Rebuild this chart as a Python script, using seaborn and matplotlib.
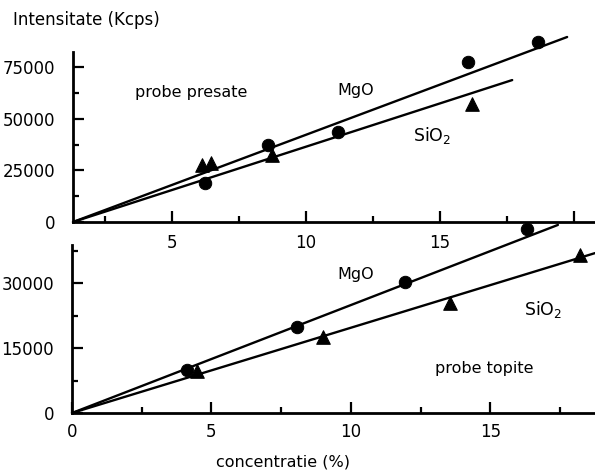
import numpy as np
import pandas as pd
import matplotlib
matplotlib.use("Agg")
import matplotlib.pyplot as plt
from matplotlib.ticker import FixedLocator, FixedFormatter
import seaborn as sns

# probe presate (upper panel)
top_mgo_x = [6.23, 8.58, 11.19, 16.04, 18.66]
top_mgo_y = [18900, 37400, 43700, 77700, 87400]
top_sio2_x = [6.12, 6.46, 8.73, 16.19]
top_sio2_y = [27700, 28600, 32500, 57300]
top_fit_mgo_x = [1.3, 19.74]
top_fit_mgo_y = [0, 89800]
top_fit_sio2_x = [1.3, 17.69]
top_fit_sio2_y = [0, 68900]

# probe topite (lower panel)
bot_mgo_x = [4.12, 8.06, 11.94, 16.3]
bot_mgo_y = [9900, 19800, 30200, 42500]
bot_sio2_x = [4.48, 9.0, 13.55, 18.2]
bot_sio2_y = [9700, 17500, 25400, 36500]
bot_fit_mgo_x = [0, 17.42]
bot_fit_mgo_y = [0, 43400]
bot_fit_sio2_x = [0, 18.75]
bot_fit_sio2_y = [0, 36900]

top_yticks = [0, 25000, 50000, 75000]
bot_yticks = [0, 15000, 30000]

sns.set_style("ticks")
plt.rcParams["font.family"] = ["DejaVu Sans"]
plt.rcParams["text.color"] = "black"

fig = plt.figure(figsize=(5.95, 4.70), dpi=100)
ax1 = fig.add_axes([73 / 595, 1 - 222 / 470, 1 - 73 / 595, 192 / 470])
ax2 = fig.add_axes([72 / 595, 1 - 413 / 470, 1 - 72 / 595, 191 / 470])

lw = 1.7


def style(ax, ytop):
    ax.patch.set_alpha(0)
    for s in ["top", "right"]:
        ax.spines[s].set_visible(False)
    for s in ["left", "bottom"]:
        ax.spines[s].set_linewidth(2.0)
        ax.spines[s].set_color("black")
    ax.spines["left"].set_bounds(0, ytop)
    ax.tick_params(which="both", direction="in", width=1.6, color="black",
                   labelsize=12, labelcolor="black")
    ax.tick_params(which="major", length=8)
    ax.tick_params(which="minor", length=4.5)
    ax.tick_params(axis="y", which="major", pad=13)


def draw(ax, fx1, fy1, fx2, fy2, mx, my, sx, sy):
    sns.lineplot(x=fx1, y=fy1, ax=ax, color="black", lw=lw, clip_on=False)
    sns.lineplot(x=fx2, y=fy2, ax=ax, color="black", lw=lw, clip_on=False)
    sns.scatterplot(x=mx, y=my, ax=ax, marker="o", s=80, color="black",
                    edgecolor="black", clip_on=False, zorder=3)
    sns.scatterplot(x=sx, y=sy, ax=ax, marker="^", s=95, color="black",
                    edgecolor="black", clip_on=False, zorder=3)


# upper panel
draw(ax1, top_fit_mgo_x, top_fit_mgo_y, top_fit_sio2_x, top_fit_sio2_y,
     top_mgo_x, top_mgo_y, top_sio2_x, top_sio2_y)
ax1.set_xlim(1.3, 20.78)
ax1.set_ylim(0, 93200)
style(ax1, 82500)
ax1.xaxis.set_major_locator(FixedLocator([5, 10, 15, 20]))
ax1.xaxis.set_major_formatter(FixedFormatter(["5", "10", "15", ""]))
ax1.xaxis.set_minor_locator(FixedLocator([2.5, 7.5, 12.5, 17.5]))
ax1.set_yticks(top_yticks)
ax1.set_yticklabels([str(v) for v in top_yticks])
ax1.yaxis.set_minor_locator(FixedLocator([12500, 37500, 62500]))
ax1.tick_params(axis="x", which="major", pad=9)
ax1.set_xlabel("")
ax1.set_ylabel("")

# lower panel
draw(ax2, bot_fit_mgo_x, bot_fit_mgo_y, bot_fit_sio2_x, bot_fit_sio2_y,
     bot_mgo_x, bot_mgo_y, bot_sio2_x, bot_sio2_y)
ax2.set_xlim(0, 18.75)
ax2.set_ylim(0, 44077)
style(ax2, 38800)
ax2.set_xticks([0, 5, 10, 15])
ax2.set_xticklabels(["0", "5", "10", "15"])
ax2.xaxis.set_minor_locator(FixedLocator([2.5, 7.5, 12.5, 17.5]))
ax2.set_yticks(bot_yticks)
ax2.set_yticklabels([str(v) for v in bot_yticks])
ax2.yaxis.set_minor_locator(FixedLocator([7500, 22500, 37500]))
ax2.tick_params(axis="x", which="major", pad=7)
ax2.set_xlabel("")
ax2.set_ylabel("")


# annotations (pixel positions, y measured from the top)
def put(xp, yp, s, size=11.5):
    fig.text(xp / 595, 1 - yp / 470, s, fontsize=size, ha="center",
             va="center", color="black")


put(191, 93, "probe presate")
put(356, 90, "MgO")
put(432, 135, r"$\mathregular{SiO_2}$", 12.5)
put(356, 275, "MgO")
put(543, 310, r"$\mathregular{SiO_2}$", 12.5)
put(484, 368, "probe topite")
put(86, 20, "Intensitate (Kcps)", 12)
put(283, 462, "concentratie (%)", 11.5)

fig.savefig("out.png", dpi=100)
